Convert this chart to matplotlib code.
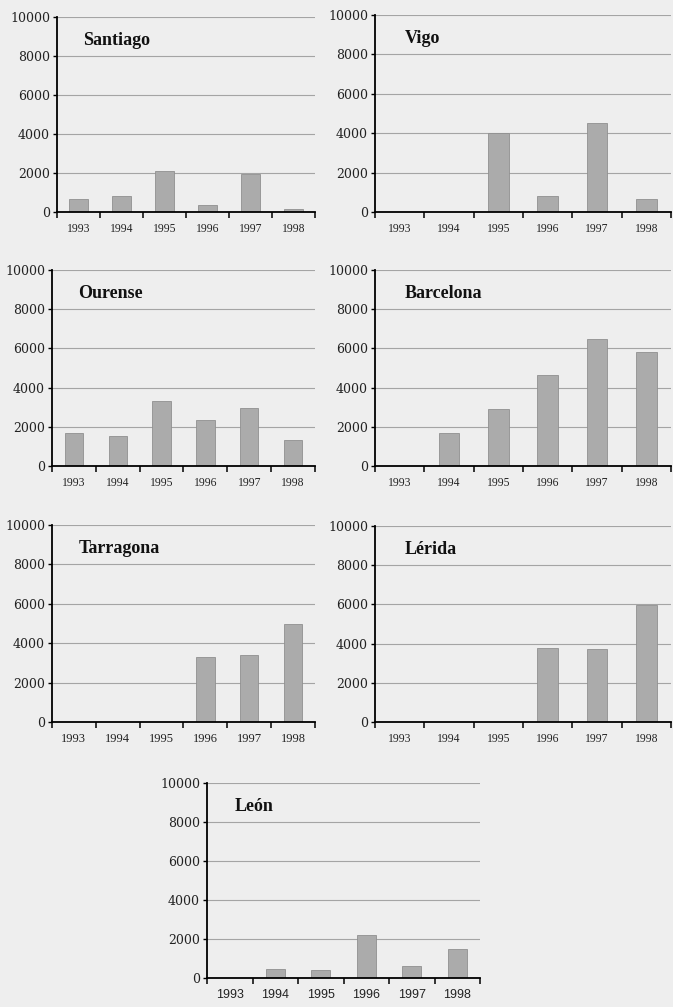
import matplotlib
matplotlib.use('Agg')
import matplotlib.pyplot as plt

# years shown under every panel
years = ['1993', '1994', '1995', '1996', '1997', '1998']

# values
santiago = [650, 800, 2100, 340, 1930, 170]
vigo = [0, 0, 4000, 800, 4530, 680]
ourense = [1660, 1520, 3330, 2340, 2970, 1350]
barcelona = [0, 1660, 2900, 4620, 6480, 5800]
tarragona = [0, 0, 0, 3310, 3380, 4950]
lerida = [0, 0, 0, 3760, 3730, 5950]
leon = [0, 460, 390, 2210, 600, 1500]

cities = ['Santiago', 'Vigo', 'Ourense', 'Barcelona', 'Tarragona', 'Lérida', 'León']
series = [santiago, vigo, ourense, barcelona, tarragona, lerida, leon]

# axes boxes in pixels: x0, x1, ytop, ybottom
W, H = 673, 1007
boxes = [
    (57, 315, 17, 212),
    (375, 671, 15, 212),
    (52, 315, 270, 466),
    (375, 671, 270, 466),
    (52, 315, 525, 722),
    (375, 671, 526, 722),
    (207, 480, 783, 978),
]

bg = '#eeeeee'
fig = plt.figure(figsize=(W / 100, H / 100), dpi=100, facecolor=bg)

for i, (name, vals, (x0, x1, yt, yb)) in enumerate(zip(cities, series, boxes)):
    ax = fig.add_axes([x0 / W, 1 - yb / H, (x1 - x0) / W, (yb - yt) / H])
    ax.set_facecolor(bg)
    xs = range(len(years))
    ax.bar(xs, vals, width=0.42, color='#ababab', edgecolor='#909090', linewidth=0.6, zorder=3)

    ax.set_xlim(-0.5, 5.5)
    ax.set_ylim(0, 10000)
    ax.set_yticks(range(0, 10001, 2000))
    ax.yaxis.grid(True, color='#a4a4a4', linewidth=0.8, zorder=0)
    ax.set_axisbelow(True)

    for s in ['top', 'right']:
        ax.spines[s].set_visible(False)
    ax.spines['left'].set_linewidth(1.3)
    ax.spines['bottom'].set_linewidth(1.3)
    ax.spines['left'].set_zorder(4)
    ax.spines['bottom'].set_zorder(4)

    # tick marks sit between the years, labels centred under bars
    ax.set_xticks(list(xs))
    ax.set_xticks([k - 0.5 for k in range(len(years) + 1)], minor=True)
    ax.tick_params(axis='x', which='major', length=0, pad=8)
    ax.tick_params(axis='x', which='minor', length=4, width=1.1, direction='out')
    ax.tick_params(axis='y', length=3, width=1.0, direction='out', pad=2)

    xfont = 'Liberation Sans' if name == 'León' else 'Liberation Serif'
    xsize = 9 if name in ('León', 'Tarragona') else 8.4
    ax.set_xticklabels(years, fontsize=xsize, family=xfont, color='#222222')
    ax.set_yticklabels([str(v) for v in range(0, 10001, 2000)], fontsize=9,
                       family='DejaVu Serif', color='#222222')

    ax.text(0.1, 0.88, name, transform=ax.transAxes, fontsize=13, fontweight='bold',
            family='Liberation Serif', va='center', ha='left', color='#111111')

fig.savefig('out.png', dpi=100, facecolor=bg)
